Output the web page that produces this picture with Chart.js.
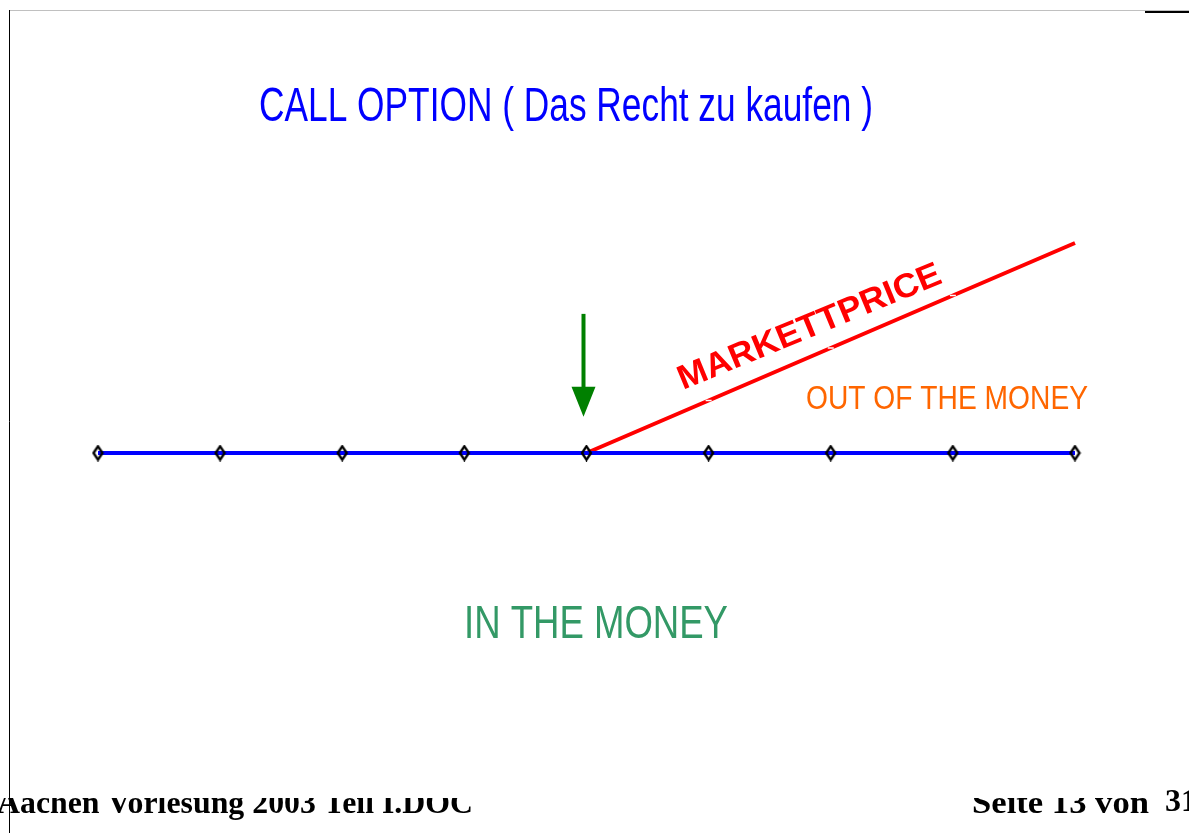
<!DOCTYPE html>
<html>
<head>
<meta charset="utf-8">
<title>Call Option</title>
<script src="https://cdn.jsdelivr.net/npm/chart.js@4"></script>
<style>
  html, body { margin: 0; padding: 0; background: #fff; }
  #wrap { width: 1189px; height: 833px; }
</style>
</head>
<body>
<div id="wrap"><canvas id="optChart" width="1189" height="833"></canvas></div>
<script>
// Kurse (unlabelled on the x axis) and the two lines
const kurse = ["1", "2", "3", "4", "5", "6", "7", "8", "9"];
const basisLinie = [0, 0, 0, 0, 0, 0, 0, 0, 0];
const marktpreis = [null, null, null, null, 0, 1, 2, 3, 4];

// green arrow pointing at the strike
const pfeilIndex = 4;
const pfeilVon = 2.65;
const pfeilBis = 0.69;

// texts
const titel = "CALL OPTION ( Das Recht zu kaufen )";
const labelMarkt = "MARKETTPRICE";
const labelOut = "OUT OF THE MONEY";
const labelIn = "IN THE MONEY";
const fussLinks = "Aachen Vorlesung 2003 Teil I.DOC";
const fussRechts = "Seite 13 von";
const fussSeiten = "31";

// open diamond marker, a bit taller than wide
function makeDiamond() {
  const c = document.createElement("canvas");
  c.width = 13; c.height = 17;
  const g = c.getContext("2d");
  g.strokeStyle = "#000";
  g.lineWidth = 2.4;
  g.beginPath();
  g.moveTo(6.5, 1.8); g.lineTo(11, 8.5); g.lineTo(6.5, 15.2); g.lineTo(2, 8.5);
  g.closePath();
  g.stroke();
  return c;
}

// squeezed text: measure, then scale horizontally to the wanted width
function fitText(ctx, text, x, y, w, font, color, angle) {
  ctx.save();
  ctx.font = font;
  ctx.fillStyle = color;
  ctx.textBaseline = "alphabetic";
  ctx.textAlign = "left";
  const m = ctx.measureText(text).width;
  ctx.translate(x, y);
  if (angle) ctx.rotate(angle);
  ctx.scale(w / m, 1);
  ctx.fillText(text, 0, 0);
  ctx.restore();
}

const pagePlugin = {
  id: "page",
  beforeDraw(chart) {
    const ctx = chart.ctx;
    ctx.save();
    ctx.fillStyle = "#fff";
    ctx.fillRect(0, 0, chart.width, chart.height);
    // page frame
    ctx.strokeStyle = "#c0c0c0";
    ctx.lineWidth = 1;
    ctx.beginPath(); ctx.moveTo(9, 10.5); ctx.lineTo(chart.width, 10.5); ctx.stroke();
    ctx.strokeStyle = "#000";
    ctx.beginPath(); ctx.moveTo(9.5, 10); ctx.lineTo(9.5, chart.height); ctx.stroke();
    ctx.lineWidth = 2;
    ctx.beginPath(); ctx.moveTo(1145, 12); ctx.lineTo(chart.width, 12); ctx.stroke();
    ctx.restore();
  },
  afterDraw(chart) {
    const ctx = chart.ctx;
    const xs = chart.scales.x, ys = chart.scales.y;

    // arrow
    const ax = xs.getPixelForValue(pfeilIndex) - 3;
    const aTop = ys.getPixelForValue(pfeilVon);
    const aTip = ys.getPixelForValue(pfeilBis);
    ctx.save();
    ctx.strokeStyle = "#008000";
    ctx.fillStyle = "#008000";
    ctx.lineWidth = 4;
    ctx.beginPath(); ctx.moveTo(ax, aTop); ctx.lineTo(ax, aTip - 28); ctx.stroke();
    ctx.beginPath();
    ctx.moveTo(ax - 12, aTip - 30); ctx.lineTo(ax + 12, aTip - 30); ctx.lineTo(ax, aTip);
    ctx.closePath(); ctx.fill();
    ctx.restore();

    // label along the market price line
    const x0 = xs.getPixelForValue(4), y0 = ys.getPixelForValue(marktpreis[4]);
    const x1 = xs.getPixelForValue(8), y1 = ys.getPixelForValue(marktpreis[8]);
    const ang = Math.atan2(y1 - y0, x1 - x0) + 0.015;
    fitText(ctx, labelMarkt, 683, 390, 282, "bold 34px 'Liberation Sans', Arial, sans-serif", "#ff0000", ang);

    fitText(ctx, titel, 259, 121, 614, "48px 'Liberation Sans', Arial, sans-serif", "#0000ff");
    fitText(ctx, labelOut, 806, 409, 282, "34px 'Liberation Sans', Arial, sans-serif", "#ff6600");
    fitText(ctx, labelIn, 464, 638, 264, "46px 'Liberation Sans', Arial, sans-serif", "#339966");

    // footer, top of the line is cut off
    ctx.save();
    ctx.beginPath(); ctx.rect(0, 798, chart.width, chart.height - 798); ctx.clip();
    fitText(ctx, fussLinks, -3, 813, 476, "bold 32px 'Liberation Serif', 'Times New Roman', serif", "#000");
    fitText(ctx, fussRechts, 972, 813, 177, "bold 32px 'Liberation Serif', 'Times New Roman', serif", "#000");
    ctx.restore();
    ctx.save();
    ctx.font = "bold 32px 'Liberation Serif', 'Times New Roman', serif";
    ctx.fillStyle = "#000";
    ctx.fillText(fussSeiten, 1165, 811);
    ctx.restore();
  }
};

const diamond = makeDiamond();

new Chart(document.getElementById("optChart").getContext("2d"), {
  type: "line",
  data: {
    labels: kurse,
    datasets: [
      {
        label: "Basis",
        data: basisLinie,
        borderColor: "#0000ff",
        borderWidth: 4,
        pointStyle: diamond,
        pointRadius: 8,
        tension: 0,
        clip: false
      },
      {
        label: "Marktpreis",
        data: marktpreis,
        borderColor: "#ff0000",
        borderWidth: 4,
        pointStyle: "line",
        pointBorderColor: "#fff",
        pointBorderWidth: 1.5,
        pointRadius: [0, 0, 0, 0, 0, 3, 3, 3, 0],
        tension: 0,
        clip: false
      }
    ]
  },
  options: {
    responsive: false,
    animation: false,
    events: [],
    layout: { padding: { left: 98, right: 114, top: 243, bottom: 380 } },
    plugins: { legend: { display: false }, tooltip: { enabled: false } },
    scales: {
      x: { display: false },
      y: { display: false, min: 0, max: 4 }
    }
  },
  plugins: [pagePlugin]
});
</script>
</body>
</html>
